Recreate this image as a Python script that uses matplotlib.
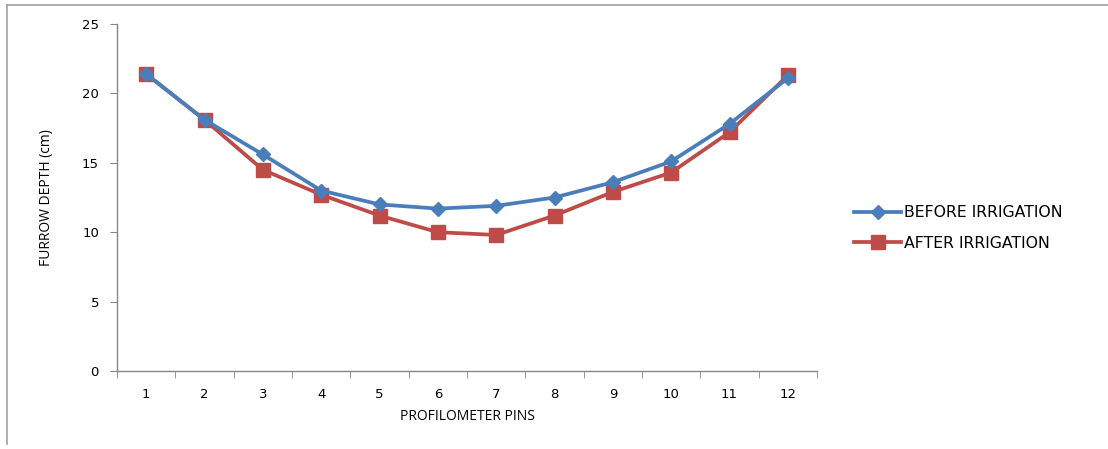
import matplotlib
matplotlib.use('Agg')
import matplotlib.pyplot as plt
from matplotlib.lines import Line2D

# Furrow profile measured at the profilometer pins
pins = [1, 2, 3, 4, 5, 6, 7, 8, 9, 10, 11, 12]
before_irrigation = [21.4, 18.1, 15.6, 13.0, 12.0, 11.7, 11.9, 12.5, 13.6, 15.1, 17.8, 21.1]
after_irrigation = [21.4, 18.1, 14.5, 12.7, 11.2, 10.0, 9.8, 11.2, 12.9, 14.3, 17.2, 21.3]
y_ticks = [0, 5, 10, 15, 20, 25]

blue = '#4A7EBB'
red = '#BE4B48'
axis_gray = '#868686'

fig = plt.figure(figsize=(11.08, 4.49), dpi=100)
ax = fig.add_axes([117 / 1108, 1 - 371 / 449, 700 / 1108, 347 / 449])

ax.plot(pins, before_irrigation, color=blue, linewidth=2.7, marker='D',
        markersize=7, label='BEFORE IRRIGATION', zorder=3)
ax.plot(pins, after_irrigation, color=red, linewidth=2.7, marker='s',
        markersize=10, label='AFTER IRRIGATION', zorder=2)

ax.set_xlim(0.5, 12.5)
ax.set_ylim(0, 25)

# category axis: labels in the middle, tick marks between categories
ax.set_xticks(pins)
ax.set_xticklabels([str(p) for p in pins])
ax.set_xticks([p + 0.5 for p in [0] + pins], minor=True)
ax.tick_params(axis='x', which='major', length=0, pad=12, labelsize=9.5)
ax.tick_params(axis='x', which='minor', length=5, direction='out', color=axis_gray)
ax.set_yticks(y_ticks)
ax.tick_params(axis='y', length=5, direction='out', color=axis_gray, pad=8, labelsize=9.5)

for side in ['top', 'right']:
    ax.spines[side].set_visible(False)
for side in ['left', 'bottom']:
    ax.spines[side].set_color(axis_gray)
    ax.spines[side].set_linewidth(1.0)

ax.set_xlabel('PROFILOMETER PINS', fontsize=10, family='Open Sans', labelpad=6)
ax.set_ylabel('FURROW DEPTH (cm)', fontsize=10, family='Open Sans', labelpad=20)

fig.legend(loc='center left', bbox_to_anchor=(840 / 1108, 1 - 228 / 449),
           frameon=False, prop={'family': 'DejaVu Sans', 'size': 11.3},
           handlelength=3.0, handletextpad=0.15, labelspacing=1.0)

# thin frame along the top and left of the chart area
fig.add_artist(Line2D([7 / 1108, 7 / 1108], [1 - 444 / 449, 1 - 5 / 449],
                      transform=fig.transFigure, color='#A0A0A0', linewidth=1.2))
fig.add_artist(Line2D([7 / 1108, 1.0], [1 - 5 / 449, 1 - 5 / 449],
                      transform=fig.transFigure, color='#A0A0A0', linewidth=1.2))

plt.savefig('out.png', dpi=100)
